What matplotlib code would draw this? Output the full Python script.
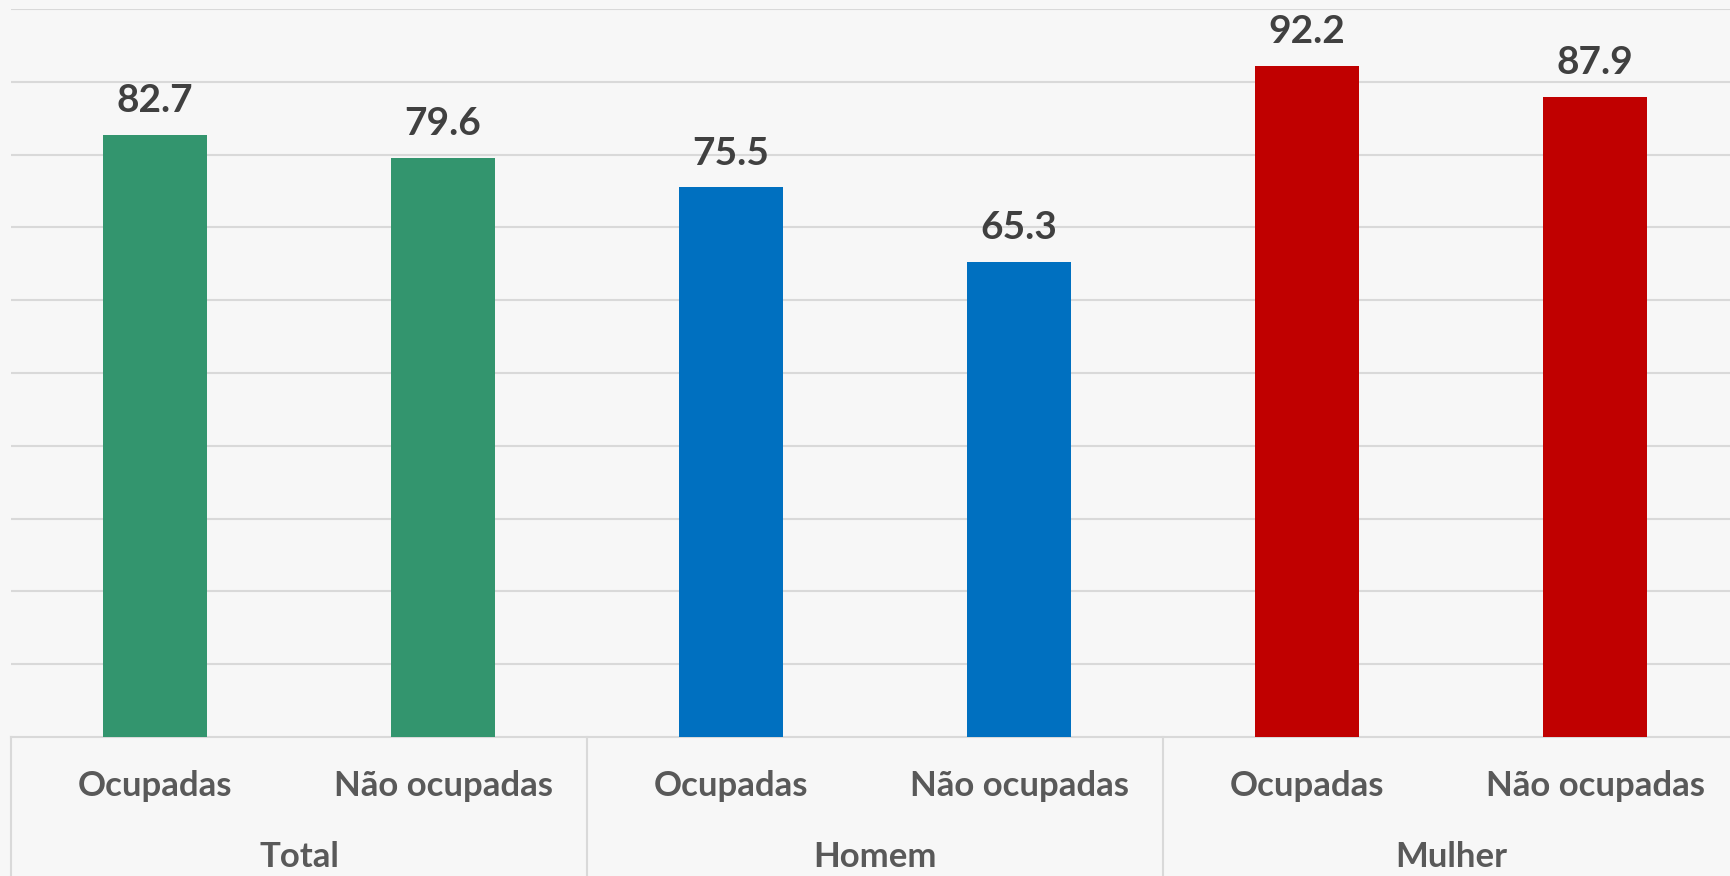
import matplotlib.pyplot as plt
from matplotlib import transforms

plt.rcParams['font.family'] = ['Lato', 'DejaVu Sans']

groups = ["Total", "Homem", "Mulher"]
subcats = ["Ocupadas", "Não ocupadas"]
values = [82.7, 79.6, 75.5, 65.3, 92.2, 87.9]
colors = ["#33956E", "#33956E", "#0070C0", "#0070C0", "#C00000", "#C00000"]

bg = "#F7F7F7"
fig = plt.figure(figsize=(17.3, 8.76), dpi=100, facecolor=bg)
ax = fig.add_axes([11 / 1730, 139 / 876, 1728 / 1730, 728 / 876])
ax.set_facecolor(bg)

x = list(range(len(values)))
bars = ax.bar(x, values, width=0.36, color=colors, zorder=3)

ax.set_xlim(-0.5, len(values) - 0.5)
ax.set_ylim(0, 100)
ax.set_yticks(range(10, 101, 10))
ax.yaxis.grid(True, color="#D9D9D9", linewidth=1.5, zorder=0)
ax.tick_params(left=False, labelleft=False, bottom=False, labelbottom=False)
for s in ["top", "right", "left"]:
    ax.spines[s].set_visible(False)
ax.spines["bottom"].set_color("#D9D9D9")
ax.spines["bottom"].set_linewidth(1.5)

# value labels
for xi, v in zip(x, values):
    ax.annotate(f"{v:.1f}", (xi, v), xytext=(0, 12), textcoords="offset points",
                ha="center", va="bottom", fontsize=28, fontweight="bold", color="#404040")

trans = transforms.blended_transform_factory(ax.transData, ax.transAxes)

# category labels
for xi in x:
    ax.text(xi, -0.067, subcats[xi % 2], transform=trans, ha="center", va="center",
            fontsize=25, fontweight="bold", color="#595959", clip_on=False)

# group labels and separators
for gi, g in enumerate(groups):
    ax.text(gi * 2 + 0.5, -0.165, g, transform=trans, ha="center", va="center",
            fontsize=25, fontweight="bold", color="#595959", clip_on=False)
    ax.plot([gi * 2 - 0.5, gi * 2 - 0.5], [0, -0.2], transform=trans,
            color="#D9D9D9", linewidth=1.5, clip_on=False)

fig.savefig("out.png", dpi=100, facecolor=bg)
